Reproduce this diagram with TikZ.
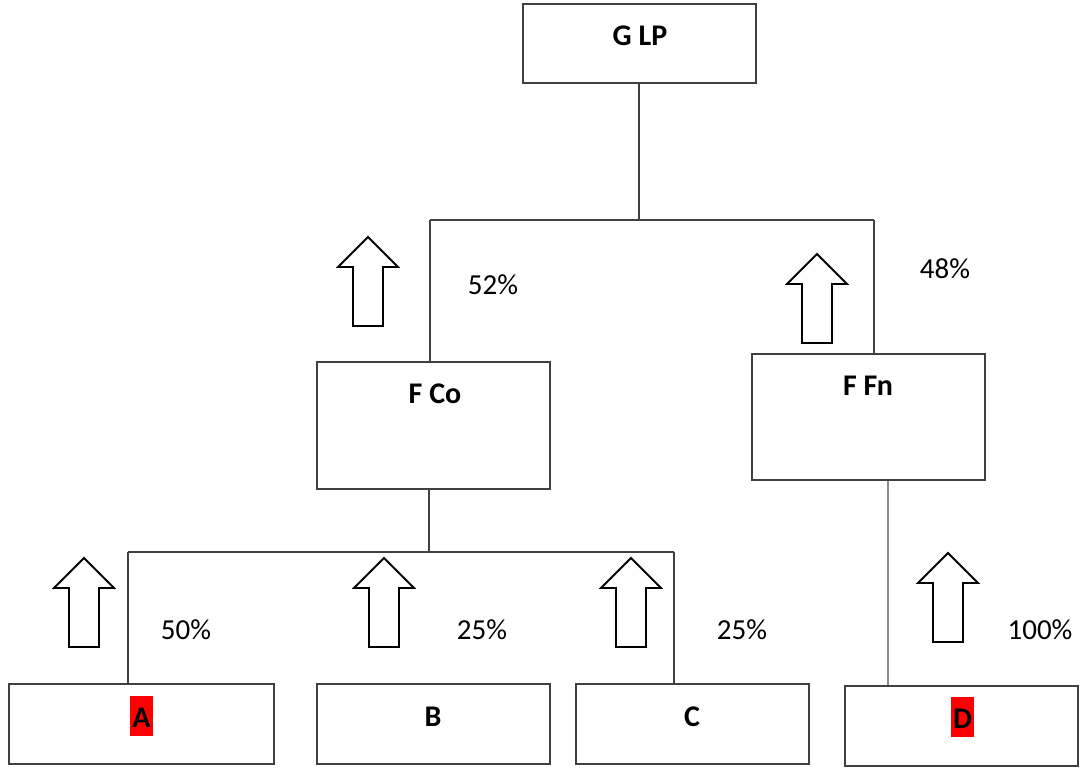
\documentclass[tikz,border=0pt]{standalone}
\usepackage{fontspec}
\setmainfont{Carlito}
\begin{document}
\begin{tikzpicture}[x=1pt,y=-1pt,
    box/.style={draw=black!75,line width=2pt,inner sep=0pt},
    title/.style={anchor=base,inner sep=0pt,font=\fontsize{30}{36}\selectfont\bfseries},
    hl/.style={fill=red,inner xsep=2pt,inner ysep=0pt,text height=31pt,text depth=9pt},
    pct/.style={anchor=base,inner sep=0pt,font=\fontsize{29}{35}\selectfont},
    link/.style={draw=black!75,line width=1.6pt},
    uparr/.pic={\draw[line width=1.8pt,line join=miter,fill=white]
        (0,0) -- (30,30) -- (15,30) -- (15,89) -- (-15,89) -- (-15,30) -- (-30,30) -- cycle;}]
    \useasboundingbox (0,0) rectangle (1085,769);

    % boxes
    \node[box,minimum width=233,minimum height=79] (GLP) at (639.5,43.5) {};
    \node[box,minimum width=233,minimum height=127] (FCo) at (433.5,425.5) {};
    \node[box,minimum width=233,minimum height=126] (FFn) at (868.5,417) {};
    \node[box,minimum width=265,minimum height=80] (A) at (141.5,724) {};
    \node[box,minimum width=233,minimum height=80] (B) at (433.5,724) {};
    \node[box,minimum width=233,minimum height=80] (C) at (692.5,724) {};
    \node[box,minimum width=233,minimum height=80] (D) at (961.5,726) {};

    \node[title] (GLPt) at (640,45) {G LP};
    \node[title] (FCot) at (435,403) {F Co};
    \node[title] (FFnt) at (868,395) {F Fn};
    \node[title,hl] (At) at (141.5,727) {A};
    \node[title] (Bt) at (433,726) {B};
    \node[title] (Ct) at (692,726) {C};
    \node[title,hl] (Dt) at (962.5,728) {D};

    % percentages
    \node[pct] (p1) at (493,294) {52\%};
    \node[pct] (p2) at (945,278) {48\%};
    \node[pct] (p3) at (186,639) {50\%};
    \node[pct] (p4) at (482,639) {25\%};
    \node[pct] (p5) at (742,639) {25\%};
    \node[pct] (p6) at (1040,639) {100\%};

    % tree lines
    \coordinate (j0) at (639,220);
    \coordinate (jl) at (430,220);
    \coordinate (jr) at (874,220);
    \coordinate (j1) at (429,552);
    \coordinate (jA) at (128,552);
    \coordinate (jC) at (674,552);
    \coordinate (jD) at (888,0);
    \draw[link] (GLP.south -| j0) -- (j0);
    \draw[link] (jl) -- (jr);
    \draw[link] (jl) -- (jl |- FCo.north);
    \draw[link] (jr) -- (jr |- FFn.north);
    \draw[link] (FCo.south -| j1) -- (j1);
    \draw[link] (jA) -- (jC);
    \draw[link] (jA) -- (jA |- A.north);
    \draw[link] (jC) -- (jC |- C.north);
    \draw[link,draw=black!45] (jD |- FFn.south) -- (jD |- D.north);

    % block arrows
    \pic at (368,237) {uparr};
    \pic at (817,254) {uparr};
    \pic at (84,558) {uparr};
    \pic at (384,558) {uparr};
    \pic at (631,558) {uparr};
    \pic at (948,553) {uparr};
\end{tikzpicture}
\end{document}
